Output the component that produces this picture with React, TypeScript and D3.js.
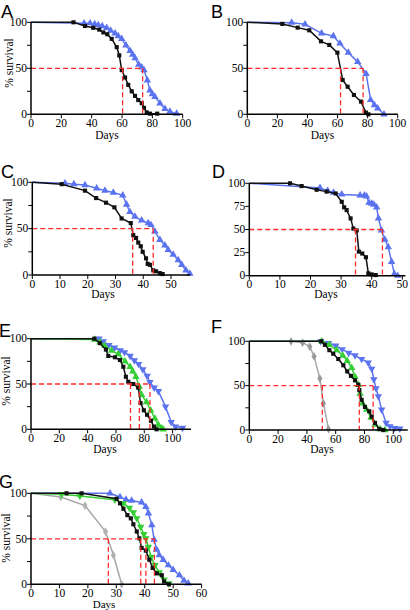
import React from "react";
import * as d3 from "d3";

type Pt = [number, number];

// ---------- data (days, % survival) ----------
const aBlack: Pt[] = [[0,100],[28,100],[35.6,96],[41,94],[45,92],[47.7,89],[50.3,87],[53.2,82],[56.5,73],[58.2,64],[59.8,48],[62,40],[64.1,32],[66.4,25],[68.6,20],[70.7,15.5],[73,12],[74.5,7],[76.3,2],[78.4,0.7],[83.2,0.7]];
const aBlue: Pt[] = [[0,100],[35,99],[38.9,99],[42,98],[44.4,97],[47,96],[49.9,94],[52.5,91],[55.4,88],[57.5,85],[59.8,82],[62.6,75],[65.3,69],[67,65],[68.6,61],[71,54],[73,51],[74.5,48],[76.7,37],[78.4,26],[80,22],[81.7,19],[85,12],[88.3,6],[91.6,3],[96,0.7]];
const aMedians = [60.4, 73.6];

const bBlack: Pt[] = [[0,100],[23.3,98.2],[33.5,94.2],[41.2,91.3],[49,79.3],[54.5,75.4],[59.9,67],[63.4,37.3],[66.7,30],[70.9,21],[75.6,13.8],[78.9,1.8],[80.5,0]];
const bBlue: Pt[] = [[0,100],[29.5,99.6],[38.4,97.8],[49.4,88],[57.2,85],[61.6,77],[67.2,67],[73.4,57],[79,44],[82,15.6],[84.5,10],[86.7,6.5],[90.9,0]];
const bMedians = [62, 77];

const cBlack: Pt[] = [[0,100],[10.6,98],[19,91],[23,83],[26.6,78],[29.6,73],[32.2,61],[35.5,56],[36.4,43],[37.4,40],[38.2,35],[39.1,31],[39.8,25],[41,18],[41.6,12],[42.4,11],[43.6,5],[44.6,4],[46,2],[47,1]];
const cBlue: Pt[] = [[0,100],[11.8,99],[15,98],[19,97],[23.2,93.5],[26.2,91],[29.2,89],[32.6,86],[34,76],[35.2,68],[37,63],[39.4,59],[41.8,56],[42.8,54],[44.2,47],[46,38],[47.8,32],[49,27],[50.8,22],[52.6,16],[53.9,11],[55.4,5],[56.8,1.5]];
const cMedians = [36.2, 43.6];

const dBlack: Pt[] = [[0,100],[13.3,100],[17.1,97],[22,93],[25.3,91],[28.2,89],[30.2,80],[31,74],[31.8,71],[33.1,62],[34,51],[35.1,49],[35.8,26],[36.9,24],[38.1,20],[38.9,2.5],[40,1.4],[41.3,0.7]];
const dBlue: Pt[] = [[0,100],[23.1,95],[25.6,92],[27.5,90],[30.2,88],[36.2,87],[37.6,87],[38.3,86],[39.1,79],[40,78],[40.7,77],[41.6,74],[42.2,62],[43.2,49],[44.3,39],[45.4,31],[46.5,15],[47.4,2],[48.5,0]];
const dMedians = [34.7, 43.5];

const eBlack: Pt[] = [[0,100],[44.7,100],[48.7,95],[52.9,88],[54.6,81],[59.3,79.5],[62.8,76.5],[65.2,69],[67,58],[68.7,52.5],[72.2,50],[75.7,46],[77.4,29],[79.7,21],[82,16],[84.7,9.5],[86.8,3],[88.7,0]];
const eGreen: Pt[] = [[0,100],[45,99],[48.7,96],[52,92],[56.9,87],[61.6,83],[66.4,75],[70,69],[71.8,64],[74.1,58],[76.5,47],[78.1,38],[81.6,30],[84.5,21],[87.5,12],[89.9,5],[92.2,1],[93.4,0]];
const eBlue: Pt[] = [[0,100],[48,100],[51,97],[55,93],[59,90],[63,87],[66,85],[70,81],[73,76],[76,72],[79,66],[82,59],[84,52],[87,46],[90,42],[95,25],[99,8],[102,3],[107,1.5]];
const eMedians = [70.3, 76.5, 84];

const fGrey: Pt[] = [[0,100],[29,100],[37,98.5],[42,94],[45,83],[49,58],[51.5,30],[55,1]];
const fBlack: Pt[] = [[0,100],[50,100],[52.5,96],[55.6,90],[58.3,86],[61.8,80],[65.3,73],[68,66],[70.6,61],[73.4,56],[75.7,51],[76.4,45],[78,34],[80.3,26],[83.3,21],[85,15],[87.3,8],[90.3,1],[93,0]];
const fGreen: Pt[] = [[0,100],[50.3,100],[55.6,96],[60.7,90],[64.9,84],[68,78],[71.1,70],[73.4,60],[75.7,51],[76.9,41],[78.7,30],[81.5,23],[84.5,14],[87.3,6],[90.8,1],[94.2,0]];
const fBlue: Pt[] = [[0,100],[49.6,100],[55,98],[60,95],[64.5,91],[69,87],[73.4,84],[78,80],[82.6,76],[85,69],[86.5,57],[88,47],[89.6,38],[91.9,23],[95,8],[97.7,4],[101,2],[104.5,1.5]];
const fMedians = [50.7, 76.4, 86];

const gGrey: Pt[] = [[0,100],[10.5,96],[19,86.5],[26.2,58],[29,32],[31.9,0]];
const gBlack: Pt[] = [[0,100],[12.5,100],[17.8,100],[30.1,94],[31.3,89],[32.5,83],[33.9,76],[35.1,72.5],[36,66],[37.2,58],[38.1,50.5],[38.9,40],[40.4,37],[41.6,27],[42.8,18],[44.2,12],[46,10],[46.8,3],[48.5,0]];
const gGreen: Pt[] = [[0,100],[10.8,99],[17.2,97],[29.5,93],[32.5,89],[34.6,84],[36,79],[37.2,72.5],[38.6,63],[39.7,55],[40.4,50.5],[41.3,41],[42.2,30],[43.6,21],[45.1,13],[46.8,5],[48.5,1]];
const gBlue: Pt[] = [[0,100],[27.8,100],[31.3,96],[33.4,93],[35.4,92],[38.9,90],[40.4,85],[41.3,78],[42.5,65],[43.3,49],[44.2,38],[45.1,32],[46.5,27],[48.3,21],[50,16],[52.2,10],[53.8,4],[55.3,1]];
const gMedians = [27.2, 38.6, 40.4, 43.4];

const xTicks100 = [0, 20, 40, 60, 80, 100];
const xTicks50 = [0, 10, 20, 30, 40, 50];
const xTicks60 = [0, 10, 20, 30, 40, 50, 60];
const yTicksAll = [0, 25, 50, 75, 100];
const yLabels3 = [0, 50, 100];

// ---------- styles ----------
const BLACK = "#111111";
const BLUE = "#5b73ef";
const GREEN = "#35cf35";
const GREY = "#a8a8a8";
const RED = "#ff2a2a";
const SERIF = "'Liberation Serif', 'Times New Roman', serif";
const SANS = "'Liberation Sans', Arial, sans-serif";

type Marker = "square" | "up" | "down" | "diamond";
interface Series { data: Pt[]; color: string; marker: Marker; fill?: string; }
interface Panel {
  label: string; lx: number; ly: number;
  left: number; right: number; top: number; bottom: number; xMax: number;
  xTicks: number[]; yLabeled: number[];
  series: Series[]; medians: number[];
  ylabel?: { x: number; y: number };
  days: { x: number; y: number; size?: number };
}

const panels: Panel[] = [
  { label: "A", lx: 1, ly: 18, left: 31, right: 182.7, top: 22.3, bottom: 114.3, xMax: 100, xTicks: xTicks100, yLabeled: yLabels3,
    series: [{ data: aBlue, color: BLUE, marker: "up" }, { data: aBlack, color: BLACK, marker: "square" }],
    medians: aMedians, ylabel: { x: 13, y: 63 }, days: { x: 107, y: 138.5 } },
  { label: "B", lx: 211, ly: 18, left: 247.3, right: 397.7, top: 22.3, bottom: 114.3, xMax: 100, xTicks: xTicks100, yLabeled: yLabels3,
    series: [{ data: bBlue, color: BLUE, marker: "up" }, { data: bBlack, color: BLACK, marker: "square" }],
    medians: bMedians, days: { x: 322.5, y: 138.5 } },
  { label: "C", lx: 1, ly: 178, left: 32.3, right: 190.4, top: 182.3, bottom: 275, xMax: 57, xTicks: xTicks50, yLabeled: yLabels3,
    series: [{ data: cBlue, color: BLUE, marker: "up" }, { data: cBlack, color: BLACK, marker: "square" }],
    medians: cMedians, ylabel: { x: 12, y: 223 }, days: { x: 103, y: 298 } },
  { label: "D", lx: 212, ly: 178, left: 249.3, right: 405.4, top: 183.3, bottom: 275.7, xMax: 51, xTicks: xTicks50, yLabeled: yTicksAll,
    series: [{ data: dBlue, color: BLUE, marker: "up" }, { data: dBlack, color: BLACK, marker: "square" }],
    medians: dMedians, days: { x: 326, y: 298 } },
  { label: "E", lx: -1, ly: 337, left: 31, right: 191, top: 338.7, bottom: 429.3, xMax: 113, xTicks: xTicks100, yLabeled: yLabels3,
    series: [{ data: eBlue, color: BLUE, marker: "down" }, { data: eGreen, color: GREEN, marker: "up" }, { data: eBlack, color: BLACK, marker: "square" }],
    medians: eMedians, ylabel: { x: 9.5, y: 381 }, days: { x: 105, y: 452.5 } },
  { label: "F", lx: 211, ly: 333, left: 249.3, right: 407.7, top: 341.3, bottom: 430, xMax: 110, xTicks: xTicks100, yLabeled: yLabels3,
    series: [{ data: fGrey, color: GREY, marker: "diamond", fill: "#9a9a9a" }, { data: fBlue, color: BLUE, marker: "down" }, { data: fGreen, color: GREEN, marker: "up" }, { data: fBlack, color: BLACK, marker: "square" }],
    medians: fMedians, days: { x: 322, y: 453 } },
  { label: "G", lx: -1, ly: 488, left: 31, right: 201.6, top: 493.3, bottom: 584.3, xMax: 60, xTicks: xTicks60, yLabeled: yLabels3,
    series: [{ data: gGrey, color: GREY, marker: "diamond", fill: "#b0b0b0" }, { data: gBlue, color: BLUE, marker: "up" }, { data: gGreen, color: GREEN, marker: "down" }, { data: gBlack, color: BLACK, marker: "square" }],
    medians: gMedians, ylabel: { x: 9.5, y: 538 }, days: { x: 104, y: 607.5, size: 11 } },
];

const symSquare = d3.symbol().type(d3.symbolSquare).size(17)() as string;
const symTri = d3.symbol().type(d3.symbolTriangle).size(24)() as string;
const symDiamond = d3.symbol().type(d3.symbolDiamond).size(22)() as string;

function markerPath(m: Marker) {
  if (m === "square") return symSquare;
  if (m === "diamond") return symDiamond;
  return symTri;
}

function PanelView({ p }: { p: Panel }) {
  const x = d3.scaleLinear().domain([0, p.xMax]).range([p.left, p.right]);
  const y = d3.scaleLinear().domain([0, 100]).range([p.bottom, p.top]);
  const line = d3.line<Pt>().x((d) => x(d[0])).y((d) => y(d[1]));
  const maxMed = d3.max(p.medians) as number;
  return (
    <g>
      <text x={p.lx} y={p.ly} fontFamily={SANS} fontSize={18} fill="#000">{p.label}</text>
      {p.series.map((s, i) => (
        <g key={i}>
          <path d={line(s.data) || ""} fill="none" stroke={s.color} strokeWidth={1.5} />
          {s.data.filter((d) => d[0] > 0).map((d, j) => (
            <path key={j} d={markerPath(s.marker)}
              transform={`translate(${x(d[0])},${y(d[1])})${s.marker === "down" ? " rotate(180)" : ""}`}
              fill={s.fill || s.color} />
          ))}
        </g>
      ))}
      <line x1={x(0)} x2={x(maxMed)} y1={y(50)} y2={y(50)} stroke={RED} strokeWidth={1.3} strokeDasharray="5,3" />
      {p.medians.map((m, i) => (
        <line key={i} x1={x(m)} x2={x(m)} y1={y(50)} y2={y(0)} stroke={RED} strokeWidth={1.3} strokeDasharray="5,3" />
      ))}
      <line x1={p.left} x2={p.right} y1={p.bottom} y2={p.bottom} stroke="#000" strokeWidth={1.5} />
      <line x1={p.left} x2={p.left} y1={p.top} y2={p.bottom} stroke="#000" strokeWidth={1.5} />
      {p.xTicks.map((t) => (
        <g key={t}>
          <line x1={x(t)} x2={x(t)} y1={p.bottom} y2={p.bottom + 4} stroke="#000" strokeWidth={1} />
          <text x={x(t)} y={p.bottom + 12.5} textAnchor="middle" fontFamily={SERIF} fontSize={11.5}>{t}</text>
        </g>
      ))}
      {yTicksAll.map((t) => (
        <g key={t}>
          <line x1={p.left - 4} x2={p.left} y1={y(t)} y2={y(t)} stroke="#000" strokeWidth={1} />
          {p.yLabeled.includes(t) && (
            <text x={p.left - 4} y={y(t)} dy="0.33em" textAnchor="end" fontFamily={SERIF} fontSize={11.5}>{t}</text>
          )}
        </g>
      ))}
      <text x={p.days.x} y={p.days.y} textAnchor="middle" fontFamily={SERIF} fontSize={p.days.size || 11.5}>Days</text>
      {p.ylabel && (
        <text transform={`translate(${p.ylabel.x},${p.ylabel.y}) rotate(-90)`} textAnchor="middle" fontFamily={SERIF} fontSize={11.5}>% survival</text>
      )}
    </g>
  );
}

export default function App() {
  return (
    <svg width={410} height={610} viewBox="0 0 410 610"
      style={{ position: "absolute", left: 0, top: 0, background: "#fff" }}>
      <rect x={0} y={0} width={410} height={610} fill="#fff" />
      {panels.map((p) => <PanelView key={p.label} p={p} />)}
    </svg>
  );
}
